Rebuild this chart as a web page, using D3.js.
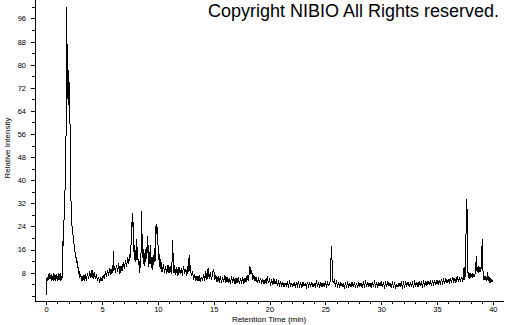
<!DOCTYPE html>
<html>
<head>
<meta charset="utf-8">
<script src="https://cdn.jsdelivr.net/npm/d3@7"></script>
<style>
  html, body { margin: 0; padding: 0; background: #fff; }
  svg { display: block; }
  text { font-family: "Liberation Sans", Arial, sans-serif; fill: #000; }
</style>
</head>
<body>
<svg id="chromatogram"></svg>
<script>
const outerWidth = 505;
const outerHeight = 325;

// x ticks every minute, labels every 5; y ticks every 4, labels every 8
const xTickValues = d3.range(0, 41, 1);
const xLabelValues = [0, 5, 10, 15, 20, 25, 30, 35, 40];
const yTickValues = d3.range(0, 101, 4);
const yLabelValues = [8, 16, 24, 32, 40, 48, 56, 64, 72, 80, 88, 96];

// [retention time (min), relative intensity]
const traceStart = [
  [0.0,0.3],[0.03,5.2],[0.1,6.6],[0.15,5.0],[0.2,7.6],[0.25,5.4],[0.3,7.9],[0.35,5.8],[0.4,7.2],[0.45,5.1],
  [0.5,7.7],[0.55,5.6],[0.6,6.9],[0.65,5.2],[0.7,7.8],[0.75,5.5],[0.8,7.3],[0.85,5.0],[0.9,7.6],[0.95,5.7],
  [1.0,7.0],[1.05,5.3],[1.1,8.0],[1.15,5.5],[1.2,7.4],[1.25,5.2],[1.3,7.9],[1.35,5.6],[1.4,6.8]
];
const mainPeak = [
  [1.42,6.0],[1.43,15.5],[1.46,19.0],[1.5,16.5],[1.54,20.0],[1.58,25.5],[1.62,27.0],[1.66,28.5],[1.7,40.0],
  [1.72,50.0],[1.75,47.0],[1.78,56.0],[1.8,58.0],[1.81,88.0],[1.82,100.0],[1.83,94.0],[1.85,72.0],[1.87,87.0],
  [1.89,70.0],[1.91,85.0],[1.93,68.0],[1.95,80.0],[1.97,69.0],[1.99,78.0],[2.01,66.0],[2.03,76.0],[2.05,64.0],
  [2.07,74.0],[2.09,62.0],[2.11,70.0],[2.13,60.0],[2.15,58.0],[2.17,47.0],[2.2,42.0],[2.22,34.0],[2.25,27.0],
  [2.29,25.0],[2.33,23.5],[2.38,22.0],[2.43,20.0],[2.48,18.5],[2.54,16.0],[2.6,15.0],[2.65,13.0],[2.7,13.5],
  [2.75,11.5],[2.8,12.0],[2.84,9.5],[2.88,10.0],[2.92,7.5],[2.96,8.4],[3.0,6.2]
];
const earlyBaseline = [
  [3.1,7.4],[3.2,5.0],[3.3,7.0],[3.4,5.3],[3.5,7.6],[3.6,5.2],[3.7,8.0],[3.8,5.8],[3.9,8.6],[4.0,6.2],
  [4.1,9.0],[4.2,6.0],[4.3,8.2],[4.4,5.7],[4.5,7.6],[4.6,5.2],[4.7,6.6],[4.8,4.6],[4.9,6.4],[5.0,5.0],
  [5.1,7.2],[5.2,5.8],[5.3,8.4],[5.4,6.6],[5.5,9.0],[5.6,7.0],[5.7,9.6],[5.8,7.4],[5.9,9.2],[5.97,8.0],
  [6.02,15.6],[6.06,8.6],[6.1,10.4],[6.2,8.0],[6.3,10.8],[6.4,8.4],[6.5,11.2],[6.6,7.6],[6.7,10.2],[6.8,8.6],
  [6.9,11.6],[7.0,9.2],[7.1,12.2],[7.2,10.0],[7.3,13.4],[7.4,11.2],[7.5,14.6]
];
const midCluster = [
  [7.55,13.0],[7.6,18.0],[7.64,25.5],[7.68,23.0],[7.72,27.0],[7.76,28.5],[7.8,21.0],[7.84,19.5],[7.88,13.0],
  [7.92,17.5],[7.96,11.8],[8.0,16.0],[8.04,12.0],[8.08,15.0],[8.12,19.8],[8.16,12.5],[8.2,14.2],[8.25,10.5],
  [8.3,12.8],[8.35,8.0],[8.4,12.0],[8.45,9.5],[8.5,15.5],[8.54,29.5],[8.58,22.0],[8.62,13.0],[8.66,18.5],
  [8.7,11.0],[8.75,16.2],[8.8,10.4],[8.85,14.0],[8.9,11.6],[8.95,17.0],[9.0,12.6],[9.05,16.0],[9.1,20.6],
  [9.15,13.5],[9.2,10.0],[9.25,15.0],[9.3,11.0],[9.35,17.6],[9.4,12.2],[9.45,9.6],[9.5,13.4],[9.55,9.0],
  [9.6,14.0],[9.65,10.8],[9.7,16.4],[9.75,12.0],[9.8,20.2],[9.84,24.6],[9.88,21.5],[9.92,25.0],[9.96,18.0],
  [10.0,21.0],[10.04,12.5],[10.08,16.5],[10.12,10.2],[10.16,14.5],[10.2,9.4],[10.25,12.6],[10.3,8.4],
  [10.35,11.6],[10.4,8.2],[10.5,11.0],[10.6,7.8],[10.7,10.4],[10.8,7.4],[10.9,10.8],[11.0,8.0],[11.1,10.2],
  [11.2,7.6],[11.28,12.2],[11.34,19.4],[11.38,10.0],[11.45,8.0],[11.5,10.6],[11.6,7.2],[11.7,9.8],[11.8,7.0],
  [11.9,10.0],[12.0,7.4],[12.1,9.6],[12.2,7.0],[12.3,10.4],[12.4,7.6],[12.5,9.4],[12.6,7.0],[12.7,10.2],
  [12.76,8.2],[12.8,14.2],[12.85,8.6],[12.9,10.6],[13.0,6.8]
];
const lateBaseline = [
  [13.1,8.6],[13.2,5.6],[13.3,7.4],[13.4,5.0],[13.5,6.8],[13.6,5.2],[13.7,7.0],[13.8,4.8],[13.9,6.6],[14.0,5.0],
  [14.1,7.6],[14.2,5.2],[14.3,8.4],[14.4,5.6],[14.5,9.6],[14.6,5.8],[14.7,8.2],[14.8,5.4],[14.9,7.8],[15.0,9.4],
  [15.1,5.6],[15.2,7.2],[15.3,4.8],[15.4,6.8],[15.5,4.6],[15.6,7.0],[15.7,4.4],[15.8,6.4],[15.9,4.8],[16.0,7.2],
  [16.1,4.6],[16.2,6.6],[16.3,4.4],[16.4,6.2],[16.5,4.2],[16.6,6.8],[16.7,4.6],[16.8,6.4],[16.9,4.0],[17.0,6.0],
  [17.1,4.4],[17.2,6.6],[17.3,4.2],[17.4,5.8],[17.5,4.6],[17.6,6.4],[17.7,4.0],[17.8,6.2],[17.9,4.8],[18.0,7.0],
  [18.1,5.0],[18.2,8.2],[18.25,10.2],[18.3,7.6],[18.4,8.8],[18.5,5.6],[18.6,7.2],[18.7,5.0],[18.8,6.6],[18.9,4.6],
  [19.0,6.0],[19.1,4.4],[19.2,6.2],[19.3,4.2],[19.4,5.8],[19.5,4.0],[19.6,5.6],[19.7,4.2],[19.8,6.8],[19.9,4.4],
  [20.0,5.6],[20.1,4.0],[20.2,5.4],[20.3,3.8],[20.4,6.0],[20.5,4.0],[20.6,5.4],[20.7,3.8],[20.8,5.0],[20.9,3.6],
  [21.0,4.8],[21.1,3.4],[21.2,4.6],[21.3,3.2],[21.4,4.4],[21.5,3.4],[21.6,4.6],[21.7,3.2],[21.8,4.8],[21.9,3.4],
  [22.0,4.4],[22.1,3.2],[22.2,4.6],[22.3,3.0],[22.4,4.4],[22.5,3.4],[22.6,5.0],[22.7,3.2],[22.8,4.4],[22.9,3.0],
  [23.0,4.6],[23.1,3.4],[23.2,4.2],[23.3,3.0],[23.4,4.8],[23.5,3.2],[23.6,4.4],[23.7,3.4],[23.8,4.6],[23.9,3.0],
  [24.0,4.2],[24.1,3.2],[24.2,4.8],[24.3,3.4],[24.4,4.4],[24.5,3.0],[24.6,4.6],[24.7,3.2],[24.8,4.4],[24.9,3.4],
  [25.0,4.8],[25.1,3.2],[25.2,4.6],[25.3,3.6],[25.4,4.4]
];
const tailBaseline = [
  [25.46,5.6],[25.5,12.0],[25.54,17.2],[25.58,15.0],[25.62,9.0],[25.66,5.6],[25.7,4.6],[25.8,5.4],[25.9,3.6],
  [26.0,4.8],[26.1,3.2],[26.2,4.4],[26.3,3.0],[26.4,4.6],[26.5,3.2],[26.6,4.2],[26.7,2.8],[26.8,4.4],[26.9,3.2],
  [27.0,4.6],[27.1,3.0],[27.2,4.2],[27.3,3.2],[27.4,4.8],[27.5,3.0],[27.6,4.4],[27.7,3.2],[27.8,4.2],[27.9,3.0],
  [28.0,4.6],[28.1,3.2],[28.2,4.4],[28.3,3.0],[28.4,4.6],[28.5,3.2],[28.6,4.8],[28.7,3.4],[28.8,4.6],[28.9,3.2],
  [29.0,4.4],[29.1,3.0],[29.2,4.6],[29.3,3.4],[29.4,4.8],[29.5,3.2],[29.6,4.4],[29.7,3.0],[29.8,4.6],[29.9,3.4],
  [30.0,4.8],[30.1,3.2],[30.2,4.4],[30.3,3.0],[30.4,4.6],[30.5,3.2],[30.6,5.0],[30.7,3.4],[30.8,4.4],[30.9,3.0],
  [31.0,4.6],[31.1,3.2],[31.2,4.2],[31.3,2.8],[31.4,4.0],[31.5,3.0],[31.6,4.4],[31.7,3.2],[31.8,4.6],[31.9,3.0],
  [32.0,4.4],[32.1,3.2],[32.2,4.6],[32.3,3.4],[32.4,4.8],[32.5,3.2],[32.6,4.4],[32.7,3.4],[32.8,4.6],[32.9,3.2],
  [33.0,4.8],[33.1,3.4],[33.2,4.6],[33.3,3.2],[33.4,4.8],[33.5,3.6],[33.6,4.6],[33.7,3.4],[33.8,5.0],[33.9,3.6],
  [34.0,4.8],[34.1,3.6],[34.2,5.2],[34.3,3.8],[34.4,5.0],[34.5,3.6],[34.6,5.4],[34.7,4.0],[34.8,5.2],[34.9,3.8],
  [35.0,5.6],[35.1,4.0],[35.2,5.2],[35.3,4.2],[35.4,5.8],[35.5,4.2],[35.6,5.6],[35.7,4.4],[35.8,6.0],[35.9,4.4],
  [36.0,5.6],[36.1,4.6],[36.2,6.2],[36.3,4.4],[36.4,6.6],[36.5,4.8],[36.6,6.0],[36.7,4.6],[36.8,6.8],[36.9,5.0],
  [37.0,6.2],[37.1,4.8],[37.2,6.6],[37.3,5.2],[37.36,6.0]
];
const endPeaks = [
  [37.42,9.8],[37.46,5.6],[37.52,6.8],[37.56,8.2],[37.6,22.0],[37.64,33.5],[37.68,26.0],[37.7,30.0],[37.73,12.0],
  [37.76,7.8],[37.8,8.2],[37.85,6.2],[37.9,7.8],[37.95,6.0],[38.0,8.0],[38.05,6.4],[38.1,7.6],[38.15,6.2],
  [38.2,8.0],[38.3,6.6],[38.4,7.4],[38.46,8.6],[38.52,13.8],[38.56,9.0],[38.6,8.2],[38.65,10.0],[38.7,8.0],
  [38.75,10.2],[38.8,8.4],[38.85,9.8],[38.9,8.2],[38.95,10.4],[39.0,9.2],[39.04,19.6],[39.08,16.5],[39.12,8.5],
  [39.16,7.0],[39.2,5.6],[39.25,7.0],[39.3,5.4],[39.35,6.8],[39.4,5.2],[39.45,6.4],[39.5,5.6],[39.55,8.2],
  [39.6,5.0],[39.65,6.6],[39.7,4.6],[39.75,6.0],[39.8,4.4],[39.85,5.8],[39.9,4.8],[39.95,5.6],[40.0,4.8]
];

const trace = [].concat(traceStart, mainPeak, earlyBaseline, midCluster, lateBaseline, tailBaseline, endPeaks);

const svg = d3.select("#chromatogram")
  .attr("width", outerWidth)
  .attr("height", outerHeight);

const x = d3.scaleLinear().domain([-1, 41]).range([35, 504]);
const y = d3.scaleLinear().domain([-1.8, 102.4]).range([301, 0]);

// y axis
const yAxis = svg.append("g")
  .attr("transform", `translate(${x(-1)},0)`)
  .call(d3.axisLeft(y)
    .tickValues(yTickValues)
    .tickSize(3)
    .tickFormat(d => yLabelValues.includes(d) ? d : ""));
yAxis.select(".domain").attr("d", `M0.5,0V${y(-1.8)}`).attr("stroke", "#000");
yAxis.selectAll(".tick line")
  .attr("x2", d => yLabelValues.includes(d) ? -4 : -3)
  .attr("stroke", "#000");
yAxis.selectAll(".tick text")
  .attr("x", -9)
  .style("font-size", "7.5px");

// x axis
const xAxis = svg.append("g")
  .attr("transform", `translate(0,${y(-1.8)})`)
  .call(d3.axisBottom(x)
    .tickValues(xTickValues)
    .tickSize(3)
    .tickFormat(d => xLabelValues.includes(d) ? d : ""));
xAxis.select(".domain").attr("d", `M${x(-1)},0.5H${x(41)}`).attr("stroke", "#000");
xAxis.selectAll(".tick line")
  .attr("y2", d => xLabelValues.includes(d) ? 4 : 3)
  .attr("stroke", "#000");
xAxis.selectAll(".tick text")
  .attr("y", 6)
  .style("font-size", "7.5px");

svg.selectAll(".domain, .tick line").attr("shape-rendering", "crispEdges");

// trace, drawn aliased like the instrument export
const line = d3.line()
  .x(d => x(d[0]))
  .y(d => y(d[1]));

svg.append("path")
  .datum(trace)
  .attr("fill", "none")
  .attr("stroke", "#000")
  .attr("stroke-width", 1)
  .attr("shape-rendering", "crispEdges")
  .attr("d", line);

// axis titles
svg.append("text")
  .attr("transform", `translate(10, 148) rotate(-90)`)
  .attr("text-anchor", "middle")
  .style("font-size", "8px")
  .text("Relative Intensity");

svg.append("text")
  .attr("x", 269)
  .attr("y", 322)
  .attr("text-anchor", "middle")
  .style("font-size", "8px")
  .text("Retention Time (min)");

svg.append("text")
  .attr("x", 208)
  .attr("y", 17)
  .style("font-size", "18px")
  .text("Copyright NIBIO All Rights reserved.");
</script>
</body>
</html>
